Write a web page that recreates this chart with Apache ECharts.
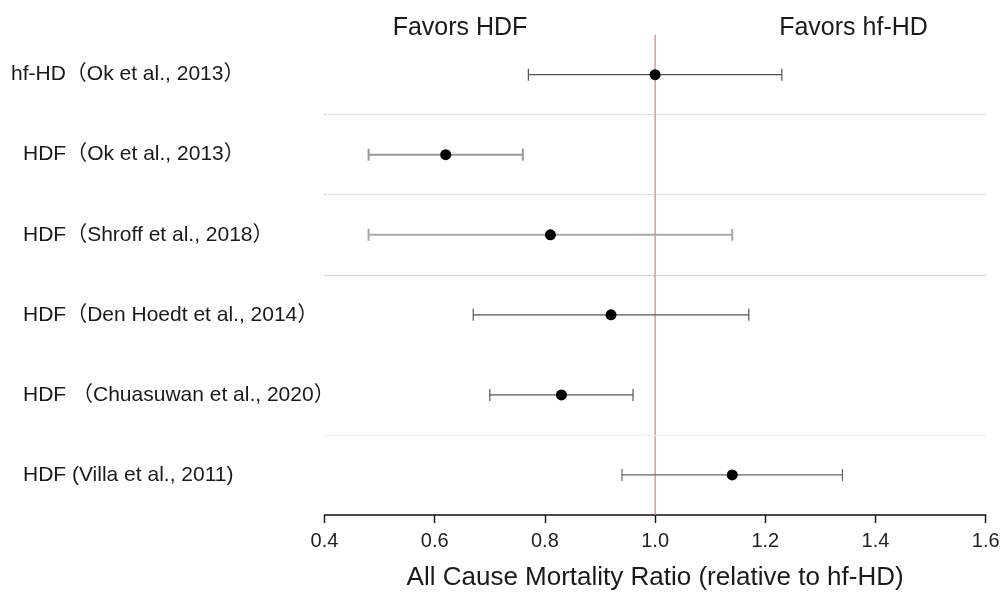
<!DOCTYPE html>
<html>
<head>
<meta charset="utf-8">
<script src="https://cdn.jsdelivr.net/npm/echarts@6/dist/echarts.min.js"></script>
<style>
html,body{margin:0;padding:0;background:#fff;}
#c{width:1003px;height:596px;}
</style>
</head>
<body>
<div id="c"></div>
<script>
// ---- data ----
var studies = [
  'hf-HD（Ok et al., 2013）',
  'HDF（Ok et al., 2013）',
  'HDF（Shroff et al., 2018）',
  'HDF（Den Hoedt et al., 2014）',
  'HDF （Chuasuwan et al., 2020）',
  'HDF (Villa et al., 2011)'
];
var ratio = [1.00, 0.62, 0.81, 0.92, 0.83, 1.14];
var lower = [0.77, 0.48, 0.48, 0.67, 0.70, 0.94];
var upper = [1.23, 0.76, 1.14, 1.17, 0.96, 1.34];
var xTicks = [0.4, 0.6, 0.8, 1.0, 1.2, 1.4, 1.6];
var referenceRatio = 1.0;

// ---- styles (kept separate) ----
var whiskerColor = ['#555', '#9a9a9a', '#a8a8a8', '#555', '#555', '#666'];
var whiskerWidth = [1.2, 2, 2, 1.2, 1.2, 1.2];

var FONT = "'Liberation Sans', Arial, 'Noto Sans CJK SC', sans-serif";

var errData = studies.map(function (s, i) { return [lower[i], upper[i], i + 0.5, i]; });
var ptData = studies.map(function (s, i) { return [ratio[i], i + 0.5]; });

var chart = echarts.init(document.getElementById('c'), null, {renderer: 'canvas'});
chart.setOption({
  animation: false,
  backgroundColor: '#fff',
  grid: {left: 324.5, right: 17.3, top: 34.6, height: 484},
  graphic: [
    {type: 'text', x: 460, y: 28, style: {text: 'Favors HDF', font: '25px ' + FONT, fill: '#1a1a1a', textAlign: 'center', textVerticalAlign: 'middle'}},
    {type: 'text', x: 853.5, y: 28, style: {text: 'Favors hf-HD', font: '25px ' + FONT, fill: '#1a1a1a', textAlign: 'center', textVerticalAlign: 'middle'}}
  ],
  xAxis: {
    type: 'value', min: xTicks[0], max: xTicks[xTicks.length - 1], interval: 0.2,
    position: 'bottom',
    name: 'All Cause Mortality Ratio (relative to hf-HD)',
    nameLocation: 'middle', nameGap: 50,
    nameTextStyle: {fontSize: 26, color: '#1a1a1a', fontFamily: FONT},
    axisLine: {show: true, onZero: false, lineStyle: {color: '#111', width: 1.6}},
    axisTick: {show: true, length: 8, lineStyle: {color: '#111', width: 1.4}},
    axisLabel: {fontSize: 20, color: '#222', fontFamily: FONT, margin: 16,
      formatter: function (v) { return v.toFixed(1); }},
    splitLine: {show: false}
  },
  yAxis: [
    {
      type: 'category', data: studies, inverse: true, boundaryGap: true,
      axisLine: {show: false}, axisTick: {show: false}, splitLine: {show: false},
      axisLabel: {
        margin: 313.5, align: 'left', fontSize: 21, color: '#1a1a1a', fontFamily: FONT,
        formatter: function (v, i) { return i === 0 ? '{a|' + v + '}' : '{b|' + v + '}'; },
        rich: {
          a: {fontSize: 21, color: '#1a1a1a', fontFamily: FONT},
          b: {fontSize: 21, color: '#1a1a1a', fontFamily: FONT, padding: [0, 0, 0, 12]}
        }
      }
    },
    {
      type: 'value', min: 0, max: 6, inverse: true, show: false,
      axisLine: {show: false}, splitLine: {show: false}
    }
  ],
  series: [
    {
      type: 'custom', yAxisIndex: 1, silent: true,
      data: errData,
      renderItem: function (params, api) {
        var lo = api.coord([api.value(0), api.value(2)]);
        var hi = api.coord([api.value(1), api.value(2)]);
        var idx = api.value(3);
        var st = {stroke: whiskerColor[idx], lineWidth: whiskerWidth[idx]};
        var h = 6;
        return {
          type: 'group',
          children: [
            {type: 'line', shape: {x1: lo[0], y1: lo[1], x2: hi[0], y2: hi[1]}, style: st},
            {type: 'line', shape: {x1: lo[0], y1: lo[1] - h, x2: lo[0], y2: lo[1] + h}, style: st},
            {type: 'line', shape: {x1: hi[0], y1: hi[1] - h, x2: hi[0], y2: hi[1] + h}, style: st}
          ]
        };
      },
      markLine: {
        silent: true, symbol: 'none', label: {show: false},
        data: [
          {yAxis: 1, lineStyle: {color: '#c4c4c4', type: [2, 2], width: 1}},
          {yAxis: 2, lineStyle: {color: '#c4c4c4', type: [2, 2], width: 1}},
          {yAxis: 3, lineStyle: {color: '#b0b0b0', type: [2, 2], width: 1}},
          {yAxis: 5, lineStyle: {color: '#eeeeee', type: 'solid', width: 1}}
        ]
      }
    },
    {
      type: 'line', yAxisIndex: 1, silent: true, symbol: 'none', z: 1,
      data: [[referenceRatio, 0], [referenceRatio, 6]],
      lineStyle: {color: '#c0877c', width: 1.2, type: 'solid', opacity: 1}
    },
    {
      type: 'scatter', yAxisIndex: 1, silent: true,
      data: ptData, symbol: 'circle', symbolSize: 11,
      itemStyle: {color: '#000', opacity: 1},
      z: 5
    }
  ]
});
</script>
</body>
</html>
